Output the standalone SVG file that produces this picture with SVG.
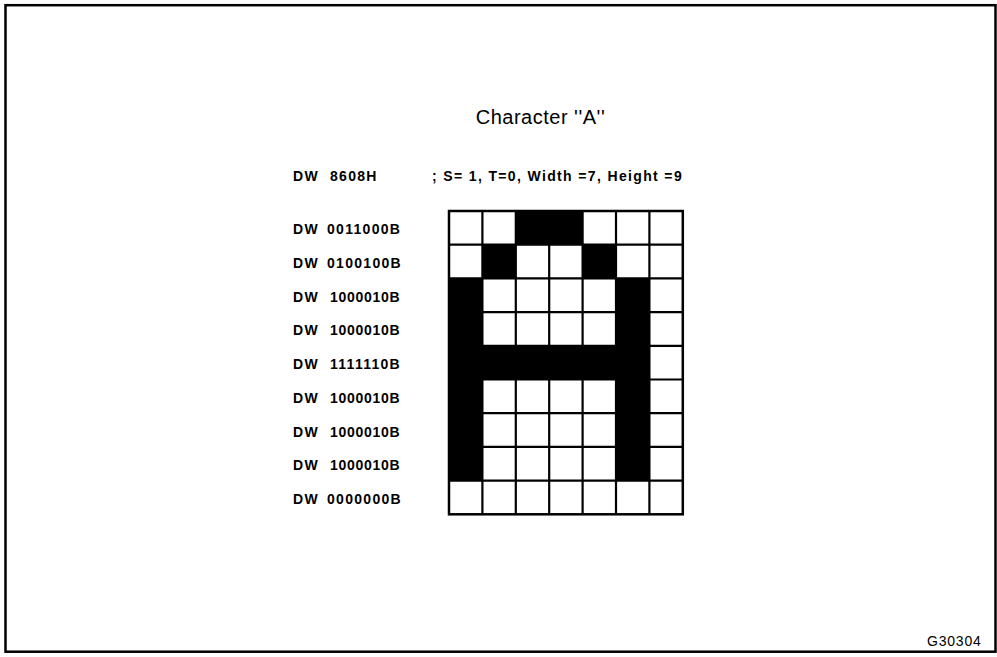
<svg xmlns="http://www.w3.org/2000/svg" width="997" height="657" viewBox="0 0 997 657">
<style>
.lbl{font-family:"Liberation Sans",Arial,sans-serif;font-weight:bold;font-size:14px;letter-spacing:1.3px;fill:#000}
.title{font-family:"Liberation Sans",Arial,sans-serif;font-size:20px;letter-spacing:0.5px;fill:#000}
.code{font-family:"Liberation Sans",Arial,sans-serif;font-size:14px;letter-spacing:0.8px;fill:#000}
</style>
<rect x="0" y="0" width="997" height="657" fill="#fff"/>
<rect id="frame" x="5.5" y="5.2" width="990" height="646.5" fill="none" stroke="#000" stroke-width="2.5"/>
<g id="title"><text class="title" x="540.5" y="124" text-anchor="middle">Character ''A''</text></g>
<g id="header">
<text class="lbl" x="293" y="181">DW</text>
<text class="lbl" x="330" y="181">8608H</text>
<text class="lbl" x="432" y="181" textLength="251" lengthAdjust="spacing">; S= 1, T=0, Width =7, Height =9</text>
</g>
<g id="labels">
<text class="lbl" x="293" y="234.3">DW</text><text class="lbl" x="327" y="234.3">0011000B</text>
<text class="lbl" x="293" y="268">DW</text><text class="lbl" x="327" y="268">0100100B</text>
<text class="lbl" x="293" y="301.7">DW</text><text class="lbl" x="330" y="301.7" textLength="71">1000010B</text>
<text class="lbl" x="293" y="335.4">DW</text><text class="lbl" x="330" y="335.4" textLength="71">1000010B</text>
<text class="lbl" x="293" y="369.1">DW</text><text class="lbl" x="330" y="369.1" textLength="71">1111110B</text>
<text class="lbl" x="293" y="402.8">DW</text><text class="lbl" x="330" y="402.8" textLength="71">1000010B</text>
<text class="lbl" x="293" y="436.5">DW</text><text class="lbl" x="330" y="436.5" textLength="71">1000010B</text>
<text class="lbl" x="293" y="470.2">DW</text><text class="lbl" x="330" y="470.2" textLength="71">1000010B</text>
<text class="lbl" x="293" y="503.9">DW</text><text class="lbl" x="327" y="503.9">0000000B</text>
</g>
<g id="grid">
<rect x="449" y="211" width="233.8" height="303.3" fill="#fff"/>
<g fill="#000">
<rect x="515.8" y="211" width="66.8" height="33.7"/>
<rect x="482.4" y="244.7" width="33.4" height="33.7"/>
<rect x="582.6" y="244.7" width="33.4" height="33.7"/>
<rect x="449" y="278.4" width="33.4" height="202.2"/>
<rect x="616" y="278.4" width="33.4" height="202.2"/>
<rect x="449" y="345.8" width="200.4" height="33.7"/>
</g>
<g stroke="#000" stroke-width="2.2" fill="none">
<path d="M482.4 211V514.3M515.8 211V514.3M549.2 211V514.3M582.6 211V514.3M616 211V514.3M649.4 211V514.3"/>
<path d="M449 244.7H682.8M449 278.4H682.8M449 312.1H682.8M449 345.8H682.8M449 379.5H682.8M449 413.2H682.8M449 446.9H682.8M449 480.6H682.8"/>
<rect x="449" y="211" width="233.8" height="303.3" stroke-width="2.5"/>
</g>
</g>
<g id="connectors"></g>
<g id="code"><text class="code" x="927" y="645.7">G30304</text></g>
</svg>
